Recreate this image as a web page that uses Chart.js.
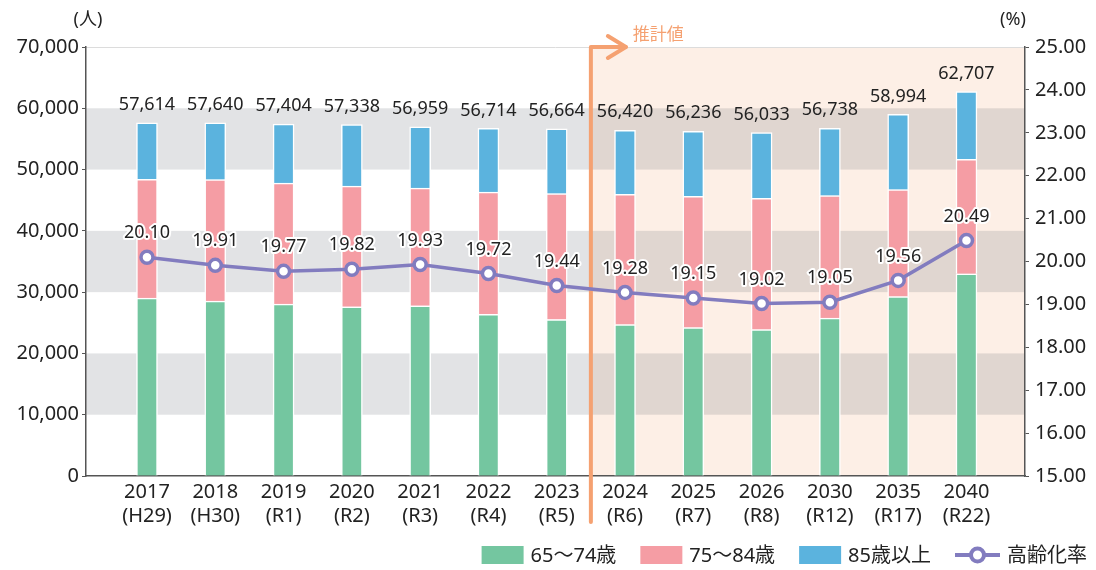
<!DOCTYPE html>
<html lang="ja">
<head>
<meta charset="utf-8">
<script src="https://cdn.jsdelivr.net/npm/chart.js@4.4.1/dist/chart.umd.min.js"></script>
<style>
html, body { margin: 0; padding: 0; background: #fff; }
#wrap { width: 1096px; height: 570px; }
</style>
</head>
<body>
<div id="wrap"><canvas id="chart" width="1096" height="570"></canvas></div>
<script>
// 年度ラベル
const years = ["2017", "2018", "2019", "2020", "2021", "2022", "2023", "2024", "2025", "2026", "2030", "2035", "2040"];
const eras = ["(H29)", "(H30)", "(R1)", "(R2)", "(R3)", "(R4)", "(R5)", "(R6)", "(R7)", "(R8)", "(R12)", "(R17)", "(R22)"];

// 年齢区分別の人数
const age65to74 = [29020, 28530, 28040, 27600, 27760, 26400, 25530, 24710, 24220, 23890, 25760, 29280, 32990];
const age75to84 = [19380, 19820, 19770, 19720, 19240, 19940, 20540, 21240, 21400, 21410, 19980, 17440, 18680];
const age85over = [9214, 9290, 9594, 10018, 9959, 10374, 10594, 10470, 10616, 10733, 10998, 12274, 11037];
// 合計（棒の上の数値）
const totals = [57614, 57640, 57404, 57338, 56959, 56714, 56664, 56420, 56236, 56033, 56738, 58994, 62707];
// 高齢化率（%）
const agingRate = [20.10, 19.91, 19.77, 19.82, 19.93, 19.72, 19.44, 19.28, 19.15, 19.02, 19.05, 19.56, 20.49];

// 推計値の開始位置（2023と2024の間）
const forecastFrom = 6.5;
const bandRanges = [[10000, 20000], [30000, 40000], [50000, 60000]];

const FONT = '"Noto Sans", "Noto Sans CJK JP", sans-serif';
const TEXT = '#222';
const GREEN = '#74c6a0', PINK = '#f59da4', BLUE = '#5bb3de', PURPLE = '#827cbf', ORANGE = '#f5a171';

Chart.defaults.font.family = FONT;
Chart.defaults.color = TEXT;

function toPoints(arr) {
    return arr.map((v, i) => ({ x: i, y: v }));
}

// 背景（灰色の帯と推計値の領域）、ラベル、凡例
const backgroundPlugin = {
    id: 'bands',
    beforeDraw(chart) {
        const { ctx, chartArea: a, scales } = chart;
        const splitX = scales.x.getPixelForValue(forecastFrom);
        ctx.save();
        ctx.fillStyle = '#fdefe6';
        ctx.fillRect(splitX, a.top, a.right - splitX, a.bottom - a.top);
        bandRanges.forEach(r => {
            const yTop = scales.y.getPixelForValue(r[1]);
            const yBot = scales.y.getPixelForValue(r[0]);
            ctx.fillStyle = '#e2e3e5';
            ctx.fillRect(a.left, yTop, splitX - a.left, yBot - yTop);
            ctx.fillStyle = '#e0d6d0';
            ctx.fillRect(splitX, yTop, a.right - splitX, yBot - yTop);
        });
        ctx.strokeStyle = '#dcdcdc';
        ctx.lineWidth = 1;
        ctx.beginPath();
        ctx.moveTo(a.left, a.top + 0.5);
        ctx.lineTo(a.right, a.top + 0.5);
        ctx.stroke();

        // 軸の単位
        ctx.fillStyle = TEXT;
        ctx.font = '18px ' + FONT;
        ctx.textAlign = 'center';
        ctx.textBaseline = 'middle';
        ctx.fillText('(人)', a.left + 2, 20);
        ctx.fillText('(%)', a.right - 12, 20);
        ctx.restore();
    },
    beforeDatasetsDraw(chart) {
        const { ctx, chartArea: a, scales } = chart;
        const x = scales.x.getPixelForValue(forecastFrom);
        const top = a.top;
        ctx.save();
        ctx.strokeStyle = ORANGE;
        ctx.lineWidth = 4;
        ctx.lineCap = 'round';
        ctx.lineJoin = 'round';
        ctx.beginPath();
        ctx.moveTo(x, a.bottom + 46);
        ctx.lineTo(x, top);
        ctx.lineTo(x + 35, top);
        ctx.stroke();
        ctx.beginPath();
        ctx.moveTo(x + 17, top - 11);
        ctx.lineTo(x + 35, top);
        ctx.lineTo(x + 17, top + 11);
        ctx.stroke();
        ctx.fillStyle = ORANGE;
        ctx.font = '17px ' + FONT;
        ctx.textAlign = 'left';
        ctx.textBaseline = 'middle';
        ctx.fillText('推計値', x + 42, top - 12);
        ctx.restore();
    },
    afterDatasetsDraw(chart) {
        const { ctx } = chart;
        ctx.save();
        ctx.textAlign = 'center';
        ctx.textBaseline = 'middle';
        ctx.font = '18px ' + FONT;
        ctx.fillStyle = TEXT;
        // 合計人数
        chart.getDatasetMeta(2).data.forEach((bar, i) => {
            ctx.fillText(totals[i].toLocaleString('en-US'), bar.x, bar.y - 18);
        });
        // 高齢化率
        ctx.strokeStyle = '#fff';
        ctx.lineWidth = 4;
        ctx.lineJoin = 'round';
        chart.getDatasetMeta(3).data.forEach((pt, i) => {
            const t = agingRate[i].toFixed(2);
            ctx.strokeText(t, pt.x, pt.y - 24);
            ctx.fillText(t, pt.x, pt.y - 24);
        });
        ctx.restore();
    },
    afterDraw(chart) {
        // 凡例
        const { ctx } = chart;
        const ds = chart.data.datasets;
        const items = [
            { label: ds[0].label, color: ds[0].backgroundColor, w: 42 },
            { label: ds[1].label, color: ds[1].backgroundColor, w: 42 },
            { label: ds[2].label, color: ds[2].backgroundColor, w: 42 },
            { label: ds[3].label, line: true, w: 45 }
        ];
        ctx.save();
        ctx.font = '20px ' + FONT;
        ctx.textBaseline = 'middle';
        ctx.textAlign = 'left';
        const gap = 7, itemGap = 24, cy = 555;
        let total = 0;
        items.forEach((it, i) => {
            it.tw = ctx.measureText(it.label).width;
            total += it.w + gap + it.tw + (i < items.length - 1 ? itemGap : 0);
        });
        let x = 1087 - total;
        items.forEach(it => {
            if (it.line) {
                ctx.strokeStyle = PURPLE;
                ctx.lineWidth = 4;
                ctx.beginPath();
                ctx.moveTo(x, cy);
                ctx.lineTo(x + it.w, cy);
                ctx.stroke();
                ctx.beginPath();
                ctx.arc(x + it.w / 2, cy, 6.5, 0, Math.PI * 2);
                ctx.fillStyle = '#fff';
                ctx.fill();
                ctx.stroke();
            } else {
                ctx.fillStyle = it.color;
                ctx.fillRect(x, cy - 9, it.w, 18);
            }
            ctx.fillStyle = TEXT;
            ctx.fillText(it.label, x + it.w + gap, cy + 1);
            x += it.w + gap + it.tw + itemGap;
        });
        ctx.restore();
    }
};

const barCommon = {
    type: 'bar',
    borderColor: '#fff',
    borderWidth: 1.5,
    borderSkipped: 'start',
    barThickness: 21,
    yAxisID: 'y',
    order: 1
};

new Chart(document.getElementById('chart'), {
    type: 'bar',
    data: {
        datasets: [
            Object.assign({}, barCommon, { label: '65～74歳', data: toPoints(age65to74), backgroundColor: GREEN }),
            Object.assign({}, barCommon, { label: '75～84歳', data: toPoints(age75to84), backgroundColor: PINK }),
            Object.assign({}, barCommon, { label: '85歳以上', data: toPoints(age85over), backgroundColor: BLUE }),
            {
                type: 'line',
                label: '高齢化率',
                data: toPoints(agingRate),
                yAxisID: 'y1',
                borderColor: PURPLE,
                borderWidth: 3.5,
                pointRadius: 6,
                pointBorderWidth: 3.5,
                pointBackgroundColor: '#fff',
                pointBorderColor: PURPLE,
                tension: 0,
                order: 0
            }
        ]
    },
    options: {
        responsive: false,
        animation: false,
        devicePixelRatio: 1,
        layout: { padding: { top: 47, bottom: 34, left: 0, right: 0 } },
        plugins: {
            legend: { display: false },
            tooltip: { enabled: false }
        },
        scales: {
            x: {
                type: 'linear',
                stacked: true,
                offset: false,
                min: -0.893,
                max: 12.857,
                afterBuildTicks: s => { s.ticks = years.map((_, i) => ({ value: i })); },
                afterFit: s => { s.height = 60; },
                ticks: {
                    autoSkip: false,
                    maxRotation: 0,
                    padding: 4,
                    font: { size: 20, lineHeight: 1.2 },
                    color: TEXT,
                    callback: v => [years[v], eras[v]]
                },
                grid: { display: false, drawTicks: false },
                border: { display: true, color: '#555', width: 1.5 }
            },
            y: {
                position: 'left',
                stacked: true,
                min: 0,
                max: 70000,
                afterFit: s => { s.width = 86; },
                ticks: {
                    stepSize: 10000,
                    padding: 3,
                    font: { size: 20 },
                    color: TEXT,
                    callback: v => v.toLocaleString('en-US')
                },
                grid: { drawOnChartArea: false, tickLength: 4, color: '#555' },
                border: { display: true, color: '#555', width: 1.5 }
            },
            y1: {
                position: 'right',
                min: 15,
                max: 25,
                afterFit: s => { s.width = 71; },
                ticks: {
                    stepSize: 1,
                    padding: 6,
                    font: { size: 20 },
                    color: TEXT,
                    callback: v => v.toFixed(2)
                },
                grid: { drawOnChartArea: false, tickLength: 4, color: '#555' },
                border: { display: true, color: '#555', width: 1.5 }
            }
        }
    },
    plugins: [backgroundPlugin]
});
</script>
</body>
</html>
